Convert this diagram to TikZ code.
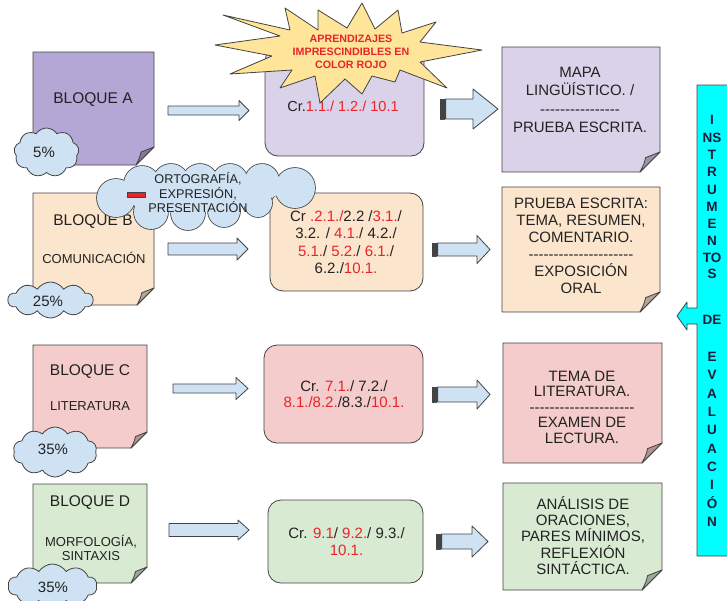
\documentclass[tikz,border=0pt]{standalone}
\usepackage{fontspec}
\setmainfont{Liberation Sans}
\usetikzlibrary{shapes.symbols}
\definecolor{lavA}{HTML}{B4A7D6}
\definecolor{lavB}{HTML}{D9D2E9}
\definecolor{peach}{HTML}{FCE5CD}
\definecolor{pinkc}{HTML}{F4CCCC}
\definecolor{greend}{HTML}{D9EAD3}
\definecolor{cloudblue}{HTML}{CFE2F3}
\definecolor{stary}{HTML}{FFE599}
\definecolor{redt}{HTML}{E8242A}
\definecolor{edge}{HTML}{434343}
\definecolor{txt}{HTML}{222222}
\definecolor{cyanb}{HTML}{00FFFF}
\definecolor{navy}{HTML}{1C1C3C}
\newcommand\fs[2]{\fontsize{#1}{#2}\selectfont}
\newcommand\rd[1]{\textcolor{redt}{#1}}
\newcommand\hyphs[1]{\foreach \k in {1,...,#1}{-}}
\tikzset{
  ol/.style={draw=edge, line width=0.8pt},
  mbox/.style={ol, rounded corners=13pt, inner sep=0pt},
  cl/.style={cloud, cloud puffs=#1, cloud puff arc=115, cloud ignores aspect, ol, fill=cloudblue, inner sep=0pt},
  cl/.default=9,
  tx/.style={text=txt, align=center, inner sep=0pt},
}
\newcommand\foldnote[6]{%
  \filldraw[fill=#6, ol] (#1,#2) -- (#3,#2) -- (#3,#4-#5) -- (#3-#5,#4) -- (#1,#4) -- cycle;
  \filldraw[fill=#6!72!black, ol] (#3,#4-#5) -- (#3-#5,#4) .. controls (#3-0.8*#5,#4-0.4*#5) .. (#3-0.72*#5,#4-0.72*#5) -- cycle;}
\newcommand\barrow[6]{%
  \filldraw[fill=cloudblue, ol] (#1,#4-#5) -- (#2,#4-#5) -- (#2,#4-#6) -- (#3,#4) -- (#2,#4+#6) -- (#2,#4+#5) -- (#1,#4+#5) -- cycle;}
\newcommand\sarrow[6]{%
  \filldraw[fill=edge, ol] (#1,#4-#5) rectangle (#1+2.2,#4+#5);
  \filldraw[fill=cloudblue, ol] (#1+3.2,#4-#5) rectangle (#1+4.6,#4+#5);
  \barrow{#1+5.6}{#2}{#3}{#4}{#5}{#6}}
\begin{document}
\begin{tikzpicture}[x=1pt,y=-1pt,line join=round]
\useasboundingbox (0,0) rectangle (727,600);
\fill[white] (0,0) rectangle (727,600);
% left notes
\foldnote{33}{52}{154}{165}{18}{lavA}
\foldnote{33}{193}{154}{305}{17}{peach}
\foldnote{33}{345}{147}{448}{16}{pinkc}
\foldnote{33}{484}{147}{583}{16}{greend}
\node[tx, font=\fs{15.5}{18}] (tA) at (93,100) {BLOQUE A};
\node[tx, font=\fs{15.5}{18}] (tB) at (93,222) {BLOQUE B};
\node[tx, font=\fs{13}{15}] (tB2) at (94,258) {COMUNICACIÓN};
\node[tx, font=\fs{15.5}{18}] (tC) at (90,372) {BLOQUE C};
\node[tx, font=\fs{13}{15}] (tC2) at (90,406) {LITERATURA};
\node[tx, font=\fs{15.5}{18}] (tD) at (90,503) {BLOQUE D};
\node[tx, font=\fs{13}{14}] (tD2) at (91,548) {MORFOLOGÍA,\\SINTAXIS};
% percentage clouds
\node[cl=9, minimum width=65, minimum height=49] (pA) at (46.5,152.5) {};
\node[tx, font=\fs{15}{17}] (pAt) at (44,152) {5\%};
\node[cl=10, minimum width=85, minimum height=36] (pB) at (50.5,300) {};
\node[tx, font=\fs{15}{17}] (pBt) at (48,301) {25\%};
\node[cl=10, minimum width=84, minimum height=50] (pC) at (55,452) {};
\node[tx, font=\fs{15}{17}] (pCt) at (53,449) {35\%};
\node[cl=10, minimum width=89, minimum height=44] (pD) at (52.5,586) {};
\node[tx, font=\fs{15}{17}] (pDt) at (53,587) {35\%};
% left arrows
\barrow{168}{239}{249}{110.5}{4.5}{10}
\barrow{168}{237}{248}{249}{6}{11}
\barrow{173}{236}{248}{388.5}{4.5}{11}
\barrow{169}{238}{249}{530}{6.5}{10}
% middle boxes
\node[mbox, fill=lavB, minimum width=159, minimum height=108] (mA) at (344.5,102) {};
\node[mbox, fill=peach, minimum width=153, minimum height=98] (mB) at (346.5,242) {};
\node[mbox, fill=pinkc, minimum width=159, minimum height=98] (mC) at (343.5,394) {};
\node[mbox, fill=greend, minimum width=155, minimum height=83] (mD) at (345.5,541.5) {};
\node[tx, font=\fs{14.5}{17}] (mAt) at (343,106) {Cr.\rd{1.1./ 1.2./ 10.1}};
\node[tx, font=\fs{15}{17.5}] (mBt) at (346,242) {Cr \rd{.2.1./}2.2 /\rd{3.1.}/\\3.2. / \rd{4.1.}/ 4.2./\\\rd{5.1.}/ \rd{5.2.}/ \rd{6.1.}/\\6.2./\rd{10.1.}};
\node[tx, font=\fs{15}{16.5}] (mCt) at (344,394) {Cr. \rd{7.1.}/ 7.2./\\\rd{8.1./8.2.}/8.3./\rd{10.1.}};
\node[tx, font=\fs{15}{16.5}] (mDt) at (346.5,541.5) {Cr. \rd{9.1}/ \rd{9.2.}/ 9.3./\\\rd{10.1.}};
% star
\filldraw[fill=stary, ol] (223,15) -- (280,36) -- (215,45) -- (272,56) -- (230,74) -- (292,70) -- (280,88) -- (315,76) -- (320,103) -- (345,79) -- (362,94) -- (372,76) -- (395,82) -- (400,70) -- (447,88) -- (420,62) -- (482,50) -- (420,42) -- (436,22) -- (402,33) -- (398,10) -- (375,29) -- (362,3) -- (347,28) -- (318,10) -- (318,30) -- (285,8) -- (290,30) -- cycle;
\node[tx, text=redt, font=\fs{10.7}{13}\bfseries] (st) at (351,52) {APRENDIZAJES\\IMPRESCINDIBLES EN\\COLOR ROJO};
% big cloud (puffs: x/y/r)
\def\puffs{116/198/19, 142/184/18, 171/182/18, 200/182/18, 230/182/18, 262/181/17, 295/188/20, 258/203/14, 224/211/16, 188/213/17, 151/212/17}
\foreach \px/\py/\pr in \puffs
  \filldraw[fill=cloudblue, draw=edge, line width=1.6pt] (\px,\py) circle (\pr);
\foreach \px/\py/\pr in \puffs
  \fill[cloudblue] (\px,\py) circle (\pr);
\fill[cloudblue] (116,198) -- (142,184) -- (171,182) -- (200,182) -- (230,182) -- (262,181) -- (295,188) -- (258,203) -- (224,211) -- (188,213) -- (151,212) -- cycle;
\filldraw[fill=redt, ol, line width=0.5pt] (127,192) rectangle (145,197.5);
\node[tx, font=\fs{12.7}{14.5}] (bct) at (198,193) {ORTOGRAFÍA,\\EXPRESIÓN,\\PRESENTACIÓN};
% right arrows
\sarrow{440}{473}{498}{109}{10}{20}
\sarrow{432}{477}{490}{249.5}{6.5}{14}
\sarrow{432}{477}{490}{394.5}{7.5}{14.5}
\sarrow{436}{472}{488}{541.5}{7.5}{15.5}
% right notes
\foldnote{502}{47}{660}{172}{20}{lavB}
\foldnote{502}{187}{660}{312}{20}{peach}
\foldnote{503}{343}{662}{463}{20}{pinkc}
\foldnote{503}{483}{662}{590}{20}{greend}
\node[tx, font=\fs{15}{18.3}] (rA) at (580,100) {MAPA\\LINGÜÍSTICO. /\\\hyphs{16}\\PRUEBA ESCRITA.};
\node[tx, font=\fs{15}{17}] (rB) at (581,246) {PRUEBA ESCRITA:\\TEMA, RESUMEN,\\COMENTARIO.\\\hyphs{21}\\EXPOSICIÓN\\ORAL};
\node[tx, font=\fs{15}{15.5}] (rC) at (582,407) {TEMA DE\\LITERATURA.\\\hyphs{21}\\EXAMEN DE\\LECTURA.};
\node[tx, font=\fs{15}{16.3}] (rD) at (583,535.5) {ANÁLISIS DE\\ORACIONES,\\PARES MÍNIMOS,\\REFLEXIÓN\\SINTÁCTICA.};
% instruments callout
\filldraw[fill=cyanb, ol] (728,85) -- (697,85) -- (697,308) -- (687,308) -- (687,302) -- (677,316) -- (687,330) -- (687,324) -- (697,324) -- (697,556) -- (728,556);
\foreach \yy/\lt [count=\n] in {120/I,138/NS,155/T,172/R,190/U,207/M,224/E,241/N,258/TO,274/S,320/DE,357/E,375/V,394/A,412/L,430/U,449/A,467/C,485/I,503/Ó,522/N}
  \node[tx, text=navy, font=\fs{13.5}{15}\bfseries, name=iv\n] at (712,\yy) {\lt};
\end{tikzpicture}
\end{document}
